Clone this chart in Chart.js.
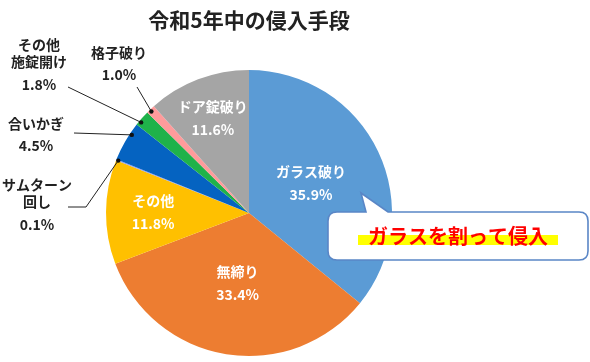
<!DOCTYPE html>
<html>
<head>
<meta charset="utf-8">
<script src="https://cdn.jsdelivr.net/npm/chart.js@4.4.1/dist/chart.umd.min.js"></script>
<style>
  html, body { margin: 0; padding: 0; background: #fff; }
  #wrap { width: 590px; height: 362px; position: relative; }
</style>
</head>
<body>
<div id="wrap"><canvas id="pie" width="590" height="362"></canvas></div>
<script>
// data
const chartTitle = "令和5年中の侵入手段";
const categories = ["ガラス破り", "無締り", "その他", "サムターン回し", "合いかぎ", "その他施錠開け", "格子破り", "ドア錠破り"];
const shares = [35.9, 33.4, 11.8, 0.1, 4.5, 1.8, 1.0, 11.6];
const sliceColors = ["#5B9BD5", "#ED7D31", "#FFC000", "#8F9CF0", "#0563C1", "#1FB24A", "#FF9B9B", "#A5A5A5"];
const calloutText = "ガラスを割って侵入";

const FONT = '"Noto Sans CJK JP", "Noto Sans", sans-serif';

// label lines for each slice (white labels inside, dark ones outside)
const labelLines = [
    ["ガラス破り"], ["無締り"], ["その他"], ["サムターン", "回し"],
    ["合いかぎ"], ["その他", "施錠開け"], ["格子破り"], ["ドア錠破り"]
];
// inside labels: radius factor along the mid angle
const insideR = { 0: 0.48, 1: 0.5, 2: 0.67, 7: 0.71 };
// outside labels: text anchor, leader path, where the dot sits in the slice (t)
const outside = {
    3: { x: 37, y: 185, bend: [[68, 207], [86, 207]], t: 0.5 },
    4: { x: 36, y: 124, bend: [[74, 133]], t: 0.72 },
    5: { x: 39, y: 45, bend: [[68, 87]], t: 0.28 },
    6: { x: 119, y: 53, bend: [[137, 87]], t: 0.4 }
};

function pct(v) { return v.toFixed(1) + "%"; }

const labelPlugin = {
    id: "labels",
    afterDraw(chart) {
        const ctx = chart.ctx;
        const arcs = chart.getDatasetMeta(0).data;
        ctx.save();
        ctx.textAlign = "center";
        ctx.textBaseline = "middle";

        // title
        ctx.fillStyle = "#222";
        ctx.font = "bold 21px " + FONT;
        ctx.fillText(chartTitle, 249, 20);

        ctx.font = "bold 14px " + FONT;
        arcs.forEach((arc, i) => {
            const p = arc.getProps(["x", "y", "startAngle", "endAngle", "outerRadius"], true);
            const lines = labelLines[i].concat([pct(shares[i])]);
            if (insideR[i] !== undefined) {
                const mid = (p.startAngle + p.endAngle) / 2;
                const r = p.outerRadius * insideR[i];
                const cx = p.x + Math.cos(mid) * r;
                const cy = p.y + Math.sin(mid) * r;
                ctx.fillStyle = "#fff";
                const top = cy - (lines.length - 1) * 11.5;
                lines.forEach((s, k) => ctx.fillText(s, cx, top + k * 23));
            } else if (outside[i]) {
                const o = outside[i];
                const a = p.startAngle + (p.endAngle - p.startAngle) * o.t;
                const r = p.outerRadius * 0.985;
                const dx = p.x + Math.cos(a) * r;
                const dy = p.y + Math.sin(a) * r;
                ctx.strokeStyle = "#222";
                ctx.lineWidth = 1;
                ctx.beginPath();
                ctx.moveTo(o.bend[0][0], o.bend[0][1]);
                for (let k = 1; k < o.bend.length; k++) ctx.lineTo(o.bend[k][0], o.bend[k][1]);
                ctx.lineTo(dx, dy);
                ctx.stroke();
                ctx.fillStyle = "#111";
                ctx.beginPath();
                ctx.arc(dx, dy, 2.2, 0, Math.PI * 2);
                ctx.fill();
                ctx.fillStyle = "#222";
                const step = lines.length === 3 ? [0, 17, 40] : [0, 22];
                lines.forEach((s, k) => ctx.fillText(s, o.x, o.y + step[k]));
            }
        });

        // callout bubble
        const bx = 328, by = 212, bw = 260, bh = 48, rr = 9;
        ctx.beginPath();
        ctx.moveTo(bx + rr, by);
        ctx.lineTo(366, by);
        ctx.lineTo(361, 193);
        ctx.lineTo(388, by);
        ctx.lineTo(bx + bw - rr, by);
        ctx.quadraticCurveTo(bx + bw, by, bx + bw, by + rr);
        ctx.lineTo(bx + bw, by + bh - rr);
        ctx.quadraticCurveTo(bx + bw, by + bh, bx + bw - rr, by + bh);
        ctx.lineTo(bx + rr, by + bh);
        ctx.quadraticCurveTo(bx, by + bh, bx, by + bh - rr);
        ctx.lineTo(bx, by + rr);
        ctx.quadraticCurveTo(bx, by, bx + rr, by);
        ctx.closePath();
        ctx.fillStyle = "#fff";
        ctx.fill();
        ctx.strokeStyle = "#5A86C6";
        ctx.lineWidth = 1.6;
        ctx.stroke();

        ctx.fillStyle = "#FFFF00";
        ctx.fillRect(358, 235, 200, 10);
        ctx.fillStyle = "#FF0000";
        ctx.font = "bold 20px " + FONT;
        ctx.fillText(calloutText, 458, 236);
        ctx.restore();
    }
};

new Chart(document.getElementById("pie"), {
    type: "pie",
    data: {
        labels: categories,
        datasets: [{
            data: shares,
            backgroundColor: sliceColors,
            borderWidth: 0,
            hoverOffset: 0
        }]
    },
    options: {
        responsive: false,
        animation: false,
        layout: { padding: { left: 106, top: 70, right: 198, bottom: 6 } },
        plugins: {
            legend: { display: false },
            tooltip: { enabled: false },
            title: { display: false }
        }
    },
    plugins: [labelPlugin]
});
</script>
</body>
</html>
